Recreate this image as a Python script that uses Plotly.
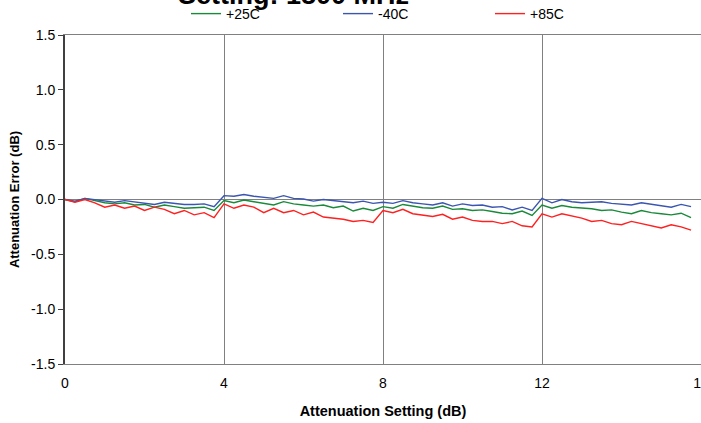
import plotly.graph_objects as go

# Attenuation setting (dB), 0.25 dB steps
atten = [i * 0.25 for i in range(64)]

err_25c = [
    0.0, -0.02, 0.01, -0.01, -0.03, -0.04, -0.03, -0.05, -0.045, -0.07, -0.05, -0.065, -0.08, -0.075, -0.07, -0.1,
    -0.01, -0.03, -0.005, -0.02, -0.035, -0.05, -0.02, -0.04, -0.05, -0.06, -0.05, -0.075, -0.06, -0.105, -0.08, -0.1,
    -0.065, -0.08, -0.045, -0.06, -0.075, -0.08, -0.06, -0.09, -0.085, -0.1, -0.095, -0.11, -0.125, -0.13, -0.105, -0.145,
    -0.05, -0.08, -0.055, -0.07, -0.075, -0.085, -0.1, -0.095, -0.115, -0.13, -0.1, -0.12, -0.13, -0.14, -0.125, -0.165,
]
err_m40c = [
    0.0, -0.015, 0.01, 0.0, -0.01, -0.025, -0.01, -0.02, -0.03, -0.045, -0.025, -0.035, -0.045, -0.045, -0.04, -0.065,
    0.035, 0.03, 0.045, 0.03, 0.02, 0.01, 0.035, 0.01, 0.005, -0.015, 0.0, -0.01, -0.02, -0.03, -0.015, -0.035,
    -0.025, -0.035, -0.01, -0.03, -0.04, -0.05, -0.03, -0.06, -0.04, -0.055, -0.05, -0.07, -0.065, -0.095, -0.07, -0.1,
    0.01, -0.03, 0.0, -0.02, -0.03, -0.025, -0.02, -0.035, -0.045, -0.05, -0.03, -0.045, -0.055, -0.07, -0.045, -0.065,
]
err_85c = [
    0.0, -0.025, 0.0, -0.03, -0.07, -0.05, -0.08, -0.06, -0.1, -0.07, -0.09, -0.13, -0.1, -0.14, -0.12, -0.165,
    -0.04, -0.08, -0.05, -0.07, -0.12, -0.08, -0.12, -0.1, -0.14, -0.115, -0.16, -0.17, -0.18, -0.2, -0.19, -0.21,
    -0.1, -0.12, -0.09, -0.13, -0.14, -0.155, -0.135, -0.18, -0.16, -0.19, -0.2, -0.2, -0.22, -0.2, -0.24, -0.25,
    -0.13, -0.16, -0.13, -0.15, -0.17, -0.2, -0.19, -0.22, -0.23, -0.2, -0.22, -0.24, -0.26, -0.23, -0.25, -0.28,
]

series_names = ["+25C", "-40C", "+85C"]
series_colors = ["#1a8a3a", "#3a56b0", "#ff2020"]
x_ticks = [0, 4, 8, 12, 16]
y_ticks = [-1.5, -1.0, -0.5, 0.0, 0.5, 1.0, 1.5]

FONT = "Liberation Sans, Arial, sans-serif"

fig = go.Figure()
for name, ys, col in zip(series_names, [err_25c, err_m40c, err_85c], series_colors):
    fig.add_trace(go.Scatter(x=atten, y=ys, mode="lines", name=name,
                             line=dict(color=col, width=1.4)))

W, H = 701, 423
L, R, T, B = 65, 0, 35, 59
PW, PH = W - L - R, H - T - B
fig.update_layout(
    width=W, height=H,
    margin=dict(l=L, r=R, t=T, b=B, autoexpand=False),
    paper_bgcolor="white", plot_bgcolor="white",
    font=dict(family=FONT, size=14, color="#000000"),
    legend=dict(orientation="h", xref="container", yref="container",
                x=186 / W, xanchor="left",
                y=1 - 14 / H, yanchor="middle",
                font=dict(size=14, family=FONT),
                entrywidth=107, bgcolor="rgba(0,0,0,0)"),
    showlegend=True,
)
fig.add_annotation(text="<b>Setting: 1800 MHz</b>", font=dict(size=27, family=FONT),
                   xref="paper", yref="paper", x=(293 - L) / PW, xanchor="center",
                   y=1 + (T - 11.5) / PH, yanchor="bottom", showarrow=False)
fig.update_xaxes(range=[0, 16], tickvals=x_ticks, ticktext=[str(v) for v in x_ticks],
                 showgrid=True, gridcolor="#808080", gridwidth=1,
                 showline=True, linecolor="#808080", linewidth=1, mirror=True,
                 ticks="", ticklabelstandoff=6, zeroline=False, automargin=False,
                 ticklabeloverflow="allow",
                 title=dict(text="<b>Attenuation Setting (dB)</b>", font=dict(size=14.5, family=FONT), standoff=16),
                 tickfont=dict(size=14, family=FONT))
fig.update_yaxes(range=[-1.5, 1.5], tickvals=y_ticks, ticktext=["%.1f" % v for v in y_ticks],
                 showgrid=False, zeroline=True, zerolinecolor="#808080", zerolinewidth=1,
                 showline=True, linecolor="#404040", linewidth=2, mirror=False,
                 ticks="outside", ticklen=5, tickcolor="#404040", tickwidth=1,
                 ticklabelstandoff=0, automargin=False,
                 title=dict(text="<b>Attenuation Error (dB)</b>", font=dict(size=13, family=FONT), standoff=9),
                 tickfont=dict(size=14, family=FONT))

fig.write_html("out.html", config={"displayModeBar": False},
               post_script="document.body.style.margin='0';document.body.style.overflow='hidden';")
